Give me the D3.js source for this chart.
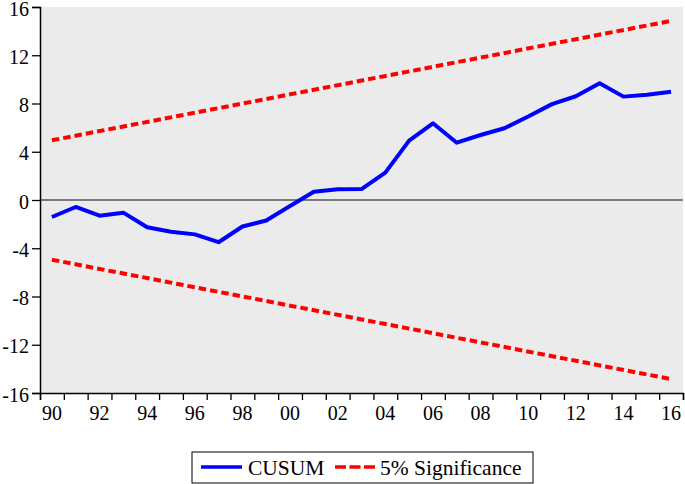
<!DOCTYPE html>
<html>
<head>
<meta charset="utf-8">
<script src="https://cdn.jsdelivr.net/npm/d3@7"></script>
<style>
  html, body { margin: 0; padding: 0; background: #fff; }
  svg { display: block; }
  svg text { font-family: "Liberation Serif", "Times New Roman", "DejaVu Serif", serif; fill: #000; }
</style>
</head>
<body>
<svg id="chart" width="685" height="484"></svg>
<script>
const years = [1990,1991,1992,1993,1994,1995,1996,1997,1998,1999,2000,2001,2002,2003,2004,2005,2006,2007,2008,2009,2010,2011,2012,2013,2014,2015,2016];
const cusum = [-1.41,-0.58,-1.3,-1.05,-2.26,-2.63,-2.85,-3.5,-2.2,-1.7,-0.5,0.69,0.89,0.91,2.27,4.92,6.36,4.75,5.39,5.95,6.92,7.95,8.6,9.67,8.57,8.72,8.98];
const sigYears = [1990, 2016];
const sigUpper = [4.95, 14.85];
const sigLower = [-4.95, -14.85];
const yTicks = [-16,-12,-8,-4,0,4,8,12,16];
const xLabelYears = [1990,1992,1994,1996,1998,2000,2002,2004,2006,2008,2010,2012,2014,2016];
const seriesNames = ["CUSUM", "5% Significance"];

const FONT = '"Liberation Serif", "Times New Roman", "DejaVu Serif", serif';
const svg = d3.select("#chart");
const L = 40, R = 683, T = 7, B = 393;
const x = d3.scaleLinear().domain([1990, 2017]).range([L, R]);
const y = d3.scaleLinear().domain([-16, 16]).range([B, T]);

// plot background
svg.append("rect").attr("x", L).attr("y", T).attr("width", R - L).attr("height", B - T).attr("fill", "#ebebeb");

// zero line
svg.append("line").attr("x1", L).attr("x2", R).attr("y1", y(0)).attr("y2", y(0))
  .attr("stroke", "#555").attr("stroke-width", 1.5);

// y axis
const yAxis = d3.axisLeft(y).tickValues(yTicks).tickSize(8).tickPadding(3).tickFormat(d => String(d));
const gy = svg.append("g").attr("transform", `translate(${L},0)`).call(yAxis)
  .attr("font-family", FONT).attr("font-size", 20);
gy.select(".domain").attr("stroke", "#000").attr("stroke-width", 1.5);
gy.selectAll(".tick line").attr("stroke", "#000").attr("stroke-width", 1.3);
gy.selectAll(".tick text").attr("fill", "#000").attr("dy", "0.4em");

// x axis: ticks at year boundaries, labels centred in each year
const xAxis = d3.axisBottom(x).tickValues(d3.range(1990, 2018)).tickSize(7).tickFormat("");
const gx = svg.append("g").attr("transform", `translate(0,${B})`).call(xAxis);
gx.select(".domain").attr("stroke", "#000").attr("stroke-width", 1.5);
gx.selectAll(".tick line").attr("stroke", "#000").attr("stroke-width", 1.3);
svg.append("g").selectAll("text").data(xLabelYears).enter().append("text")
  .attr("x", d => x(d + 0.5)).attr("y", 420)
  .attr("text-anchor", "middle").attr("font-size", 20).attr("font-family", FONT)
  .text(d => String(d % 100).padStart(2, "0"));

// significance lines
const sigLine = d3.line().x(d => x(d[0] + 0.5)).y(d => y(d[1]));
[sigUpper, sigLower].forEach(arr => {
  svg.append("path").datum(sigYears.map((yr, i) => [yr, arr[i]]))
    .attr("d", sigLine).attr("fill", "none").attr("stroke", "#ff0000")
    .attr("stroke-width", 4).attr("stroke-dasharray", "7.5,4");
});

// CUSUM line
const line = d3.line().x((d, i) => x(years[i] + 0.5)).y(d => y(d));
svg.append("path").datum(cusum).attr("d", line).attr("fill", "none")
  .attr("stroke", "#0000ff").attr("stroke-width", 4).attr("stroke-linejoin", "round");

// legend
const lg = svg.append("g").attr("font-family", FONT);
lg.append("rect").attr("x", 192).attr("y", 452).attr("width", 341).attr("height", 31)
  .attr("fill", "#fff").attr("stroke", "#000").attr("stroke-width", 1);
lg.append("line").attr("x1", 201).attr("x2", 242).attr("y1", 467).attr("y2", 467)
  .attr("stroke", "#0000ff").attr("stroke-width", 3.5);
lg.append("text").attr("x", 248).attr("y", 475).attr("font-size", 21.5).text(seriesNames[0]);
lg.append("line").attr("x1", 335).attr("x2", 375).attr("y1", 467).attr("y2", 467)
  .attr("stroke", "#ff0000").attr("stroke-width", 3.5).attr("stroke-dasharray", "11,3.5");
lg.append("text").attr("x", 380).attr("y", 475).attr("font-size", 21.5).text(seriesNames[1]);
</script>
</body>
</html>
